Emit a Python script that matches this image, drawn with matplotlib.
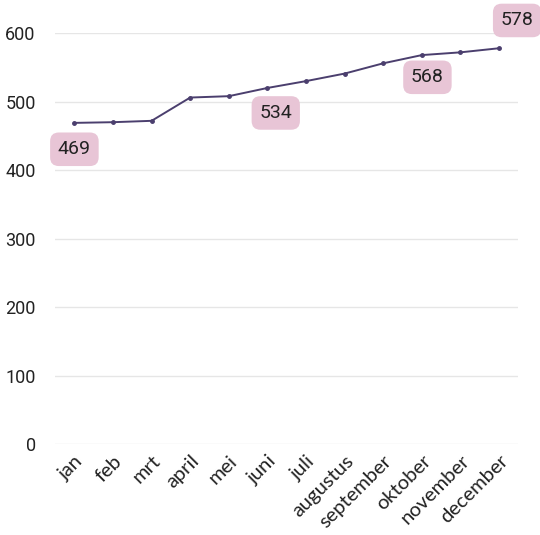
import matplotlib
matplotlib.use("Agg")
import matplotlib.pyplot as plt
from matplotlib.transforms import ScaledTranslation

months = ["jan", "feb", "mrt", "april", "mei", "juni", "juli", "augustus",
          "september", "oktober", "november", "december"]
values = [469, 470, 472, 506, 508, 520, 530, 541, 556, 568, 572, 578]
label_idx = [0, 5, 9, 11]
label_txt = ["469", "534", "568", "578"]
label_dx = [0, 6, 4, 13]
label_dy = [-19, -18, -16, 20]
yticks = [0, 100, 200, 300, 400, 500, 600]

fig = plt.figure(figsize=(5.4, 5.35), dpi=100)
ax = fig.add_axes([0.102, 0.170, 0.858, 0.768])
x = list(range(len(months)))
ax.plot(x, values, color="#4b3f6e", lw=1.4, marker="o", ms=2.5, zorder=3)
ax.set_xlim(-0.5, 11.5)
ax.set_ylim(0, 600)
ax.set_yticks(yticks)
ax.set_yticklabels([str(v) for v in yticks], fontsize=13, family="Roboto", color="#222222")
ax.set_xticks(x)
ax.set_xticklabels(months, rotation=45, ha="right", rotation_mode="anchor",
                   fontsize=14.5, family="Lato", color="#222222")
shift = ScaledTranslation(7 / 72, 0, fig.dpi_scale_trans)
for lab in ax.get_xticklabels():
    lab.set_transform(lab.get_transform() + shift)
ax.tick_params(axis="both", length=0)
ax.tick_params(axis="y", pad=14)
ax.tick_params(axis="x", pad=6)
for s in ax.spines.values():
    s.set_visible(False)
ax.grid(axis="y", color="#e6e6e6", lw=1)
ax.set_axisbelow(True)

for i, t, dx, dy in zip(label_idx, label_txt, label_dx, label_dy):
    ax.annotate(t, (x[i], values[i]), xytext=(dx, dy), textcoords="offset points",
                ha="center", va="center", fontsize=14, family="Roboto", color="#222222",
                annotation_clip=False,
                bbox=dict(boxstyle="round,pad=0.4,rounding_size=0.45", fc="#e8c5d6", ec="none"))

fig.savefig("out.png", dpi=100)
